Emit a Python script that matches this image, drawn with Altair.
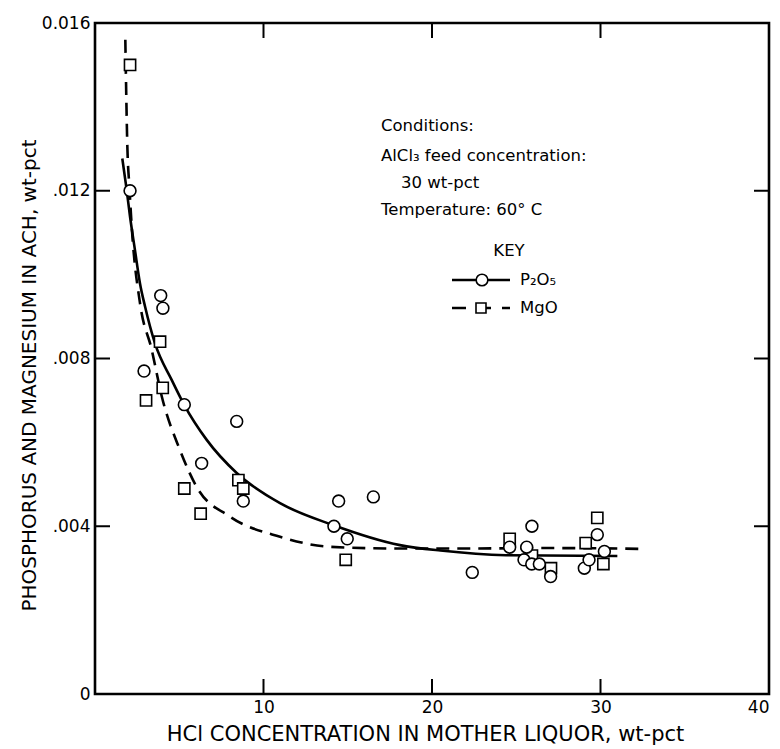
import altair as alt
import pandas as pd

# ---- data ----
p2o5_x = [2.08, 3.90, 4.03, 2.91, 5.30, 8.41, 6.33, 8.80, 14.46, 16.52, 14.18, 14.97,
          22.39, 25.93, 24.61, 25.62, 25.46, 25.92, 26.37, 27.04, 29.04, 29.32, 29.81, 30.23]
p2o5_y = [0.0120, 0.0095, 0.0092, 0.0077, 0.0069, 0.0065, 0.0055, 0.0046, 0.0046, 0.0047, 0.0040, 0.0037,
          0.0029, 0.0040, 0.0035, 0.0035, 0.0032, 0.0031, 0.0031, 0.0028, 0.0030, 0.0032, 0.0038, 0.0034]

mgo_x = [2.08, 3.86, 4.02, 3.03, 5.30, 6.27, 8.51, 8.80, 14.88, 24.61, 25.93, 27.06, 29.12, 29.81, 30.17]
mgo_y = [0.0150, 0.0084, 0.0073, 0.0070, 0.0049, 0.0043, 0.0051, 0.0049, 0.0032, 0.0037, 0.0033, 0.0030,
         0.0036, 0.0042, 0.0031]

# fitted curves as drawn in the reference (read points)
p2o5_curve_x = [1.62, 1.88, 2.08, 2.37, 2.67, 2.97, 3.56, 4.55, 5.30, 6.63, 8.41, 10.98, 14.12, 18.1, 20.5, 24.4, 31.0]
p2o5_curve_y = [0.01277, 0.01202, 0.01138, 0.01059, 0.00979, 0.00924, 0.00836, 0.00749, 0.00689, 0.00606,
                0.00527, 0.00455, 0.00403, 0.00355, 0.00342, 0.00331, 0.00329]

mgo_curve_x = [1.80, 1.92, 2.04, 2.18, 2.67, 3.36, 3.96, 5.04, 6.03, 8.01, 10.98, 13.95, 17.9, 22.0, 27.0, 32.5]
mgo_curve_y = [0.01560, 0.01305, 0.01210, 0.01114, 0.00932, 0.00822, 0.00710, 0.00582, 0.00494, 0.00423,
               0.00375, 0.00351, 0.00347, 0.00347, 0.00348, 0.00346]

x_ticks = [0, 10, 20, 30, 40]
y_ticks = [0, 0.004, 0.008, 0.012, 0.016]
y_tick_labels = ["0", ".004", ".008", ".012", "0.016"]
x_inner_ticks = [10, 20, 30]
y_inner_ticks = [0.004, 0.008, 0.012]

x_title = "HCl CONCENTRATION IN MOTHER LIQUOR, wt-pct"
y_title = "PHOSPHORUS AND MAGNESIUM IN ACH, wt-pct"
notes = ["Conditions:", "AlCl₃ feed concentration:", "30 wt-pct", "Temperature: 60° C"]
key_title = "KEY"
series_names = ["P₂O₅", "MgO"]

# ---- layout ----
W, H = 674, 671
FONT = "DejaVu Sans"

xs = alt.Scale(domain=[0, 40], nice=False, zero=False)
ys = alt.Scale(domain=[0, 0.016], nice=False)

label_js = "[" + ",".join("'" + s + "'" for s in y_tick_labels) + "]"

x_axis = alt.Axis(values=x_ticks, labelExpr="datum.value == 0 ? '' : datum.label",
                  ticks=False, domain=False, grid=False, labelFontSize=17, labelPadding=5,
                  labelFont=FONT, labelColor="black",
                  title=x_title, titleFont=FONT, titleFontSize=21, titleFontWeight="normal",
                  titleColor="black", titleX=330, titleY=40, titleBaseline="middle", titleAlign="center")
y_axis = alt.Axis(values=y_ticks, labelExpr=label_js + "[round(datum.value/0.004)]",
                  ticks=False, domain=False, grid=False, labelFontSize=17, labelPadding=5,
                  labelFont=FONT, labelColor="black",
                  title=y_title, titleFont=FONT, titleFontSize=20, titleFontWeight="normal",
                  titleColor="black", titleX=-66, titleY=352, titleBaseline="middle", titleAlign="center")

X = lambda: alt.X("x:Q", scale=xs, axis=x_axis)
Y = lambda: alt.Y("y:Q", scale=ys, axis=y_axis)

df_p = pd.DataFrame({"x": p2o5_x, "y": p2o5_y})
df_m = pd.DataFrame({"x": mgo_x, "y": mgo_y})
df_pc = pd.DataFrame({"x": p2o5_curve_x, "y": p2o5_curve_y})
df_mc = pd.DataFrame({"x": mgo_curve_x, "y": mgo_curve_y})

line_p = alt.Chart(df_pc).mark_line(color="black", strokeWidth=2.6, interpolate="monotone").encode(x=X(), y=Y())
line_m = alt.Chart(df_mc).mark_line(color="black", strokeWidth=2.6, strokeDash=[13, 8],
                                   interpolate="monotone").encode(x=X(), y=Y())
pts_m = alt.Chart(df_m).mark_point(shape="square", size=125, filled=True, fill="white", fillOpacity=1,
                                   stroke="black", strokeWidth=1.6, opacity=1).encode(x=X(), y=Y())
pts_p = alt.Chart(df_p).mark_point(shape="circle", size=140, filled=True, fill="white", fillOpacity=1,
                                   stroke="black", strokeWidth=1.6, opacity=1).encode(x=X(), y=Y())

# inward ticks on all four sides
dfx = pd.DataFrame({"x": x_inner_ticks})
dfy = pd.DataFrame({"y": y_inner_ticks})
tick_style = dict(color="black", strokeWidth=2)
tb = alt.Chart(dfx).mark_rule(**tick_style).encode(x=X(), y=alt.value(H), y2=alt.value(H - 15))
tt = alt.Chart(dfx).mark_rule(**tick_style).encode(x=X(), y=alt.value(0), y2=alt.value(15))
tl = alt.Chart(dfy).mark_rule(**tick_style).encode(y=Y(), x=alt.value(0), x2=alt.value(15))
tr = alt.Chart(dfy).mark_rule(**tick_style).encode(y=Y(), x=alt.value(W - 15), x2=alt.value(W))

one = pd.DataFrame({"a": [0]})


def txt(s, px, py, align="left", size=16.5):
    return alt.Chart(one).mark_text(align=align, baseline="middle", font=FONT, fontSize=size,
                                    color="black").encode(x=alt.value(px), y=alt.value(py), text=alt.value(s))


note_layers = [
    txt(notes[0], 286, 103),
    txt(notes[1], 286, 133),
    txt(notes[2], 306, 160),
    txt(notes[3], 286, 187),
    txt(key_title, 414, 228, align="center"),
    txt(series_names[0], 425, 257),
    txt(series_names[1], 425, 285),
]

leg_p_line = alt.Chart(one).mark_rule(color="black", strokeWidth=2.4).encode(
    x=alt.value(357), x2=alt.value(415), y=alt.value(257))
leg_p_pt = alt.Chart(one).mark_point(shape="circle", size=135, filled=True, fill="white", fillOpacity=1,
                                     stroke="black", strokeWidth=1.6, opacity=1).encode(
    x=alt.value(387), y=alt.value(257))
leg_m_line = alt.Chart(one).mark_rule(color="black", strokeWidth=2.4, strokeDash=[14, 11]).encode(
    x=alt.value(357), x2=alt.value(415), y=alt.value(285))
leg_m_pt = alt.Chart(one).mark_point(shape="square", size=100, filled=True, fill="white", fillOpacity=1,
                                     stroke="black", strokeWidth=1.6, opacity=1).encode(
    x=alt.value(386), y=alt.value(285))

chart = alt.layer(
    line_p, line_m, pts_m, pts_p, tb, tt, tl, tr,
    *note_layers, leg_p_line, leg_p_pt, leg_m_line, leg_m_pt
).properties(
    width=W, height=H,
    autosize=alt.AutoSizeParams(type="none"),
    padding={"left": 95, "top": 23, "right": 11, "bottom": 55},
    background="white",
).configure_view(stroke="black", strokeWidth=2.6)

chart.save("out.html", embed_options={"renderer": "svg", "actions": False})
